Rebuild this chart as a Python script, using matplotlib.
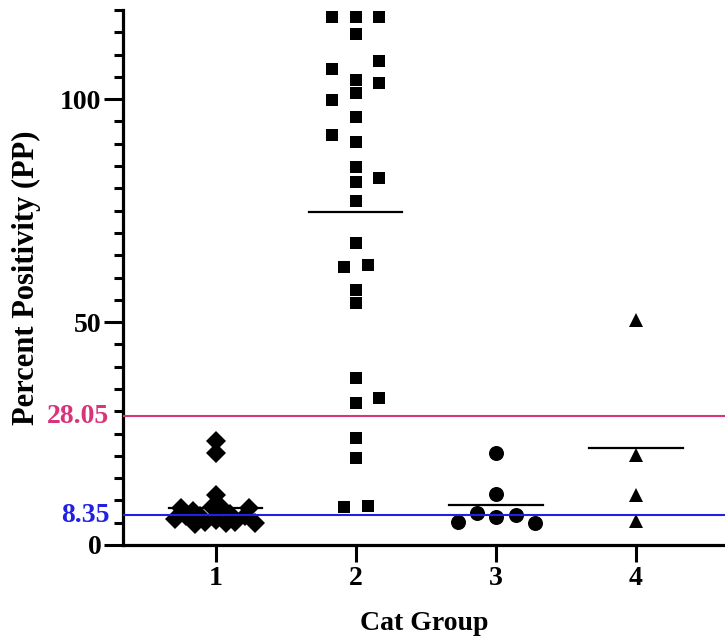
import numpy as np
import matplotlib
matplotlib.use("Agg")
import matplotlib.pyplot as plt
from matplotlib.ticker import MultipleLocator, FixedLocator

# ---------------- data ----------------
groups = [1, 2, 3, 4]
group_labels = ["1", "2", "3", "4"]

g1_values = [23.4, 20.6, 11.2, 8.2, 7.6, 8.6, 8.8, 8.2, 5.8, 4.7, 5.2, 5.5,
             4.9, 5.2, 4.9, 6.5, 6.5, 6.5, 7.0]
g1_jitter = [0.0, 0.0, 0.0, -0.25, -0.16, -0.03, 0.03, 0.24, -0.29, -0.15, -0.08, 0.0,
             0.07, 0.14, 0.28, -0.21, 0.21, -0.11, 0.10]

g2_values = [118.4, 118.4, 118.4, 114.6, 108.6, 106.7, 104.3, 103.6, 101.3, 99.8,
             95.9, 91.9, 90.5, 84.8, 81.5, 82.4, 77.1, 67.8, 62.4, 62.9, 57.3,
             54.3, 37.5, 31.8, 33.0, 24.0, 19.6, 8.6, 8.8]
g2_jitter = [-0.167, 0.0, 0.165, 0.0, 0.165, -0.167, 0.0, 0.165, 0.0, -0.167,
             0.0, -0.167, 0.0, 0.0, 0.0, 0.165, 0.0, 0.0, -0.082, 0.084, 0.0,
             0.0, 0.0, 0.0, 0.165, 0.0, 0.0, -0.082, 0.084]

g3_values = [20.6, 11.4, 5.2, 7.1, 6.2, 6.7, 5.0]
g3_jitter = [0.0, 0.0, -0.273, -0.135, 0.0, 0.143, 0.28]

g4_values = [50.4, 20.1, 11.2, 5.4]
g4_jitter = [0.0, 0.0, 0.0, 0.0]

cutoff_labels = ["28.05", "8.35"]
cutoff_levels = [28.9, 6.7]
cutoff_colors = ["#D8347A", "#2121E3"]

# ---------------- figure ----------------
W, H = 725, 643
fig = plt.figure(figsize=(W / 100, H / 100), dpi=100)
left_px, right_px, top_px, bottom_px = 122.7, 725, 10, 545
ax = fig.add_axes([left_px / W, (H - bottom_px) / H,
                   (right_px - left_px) / W, (bottom_px - top_px) / H])

font = {"family": "Liberation Serif", "weight": "bold"}
fs = 20

series = [
    (g1_values, g1_jitter, "D", 10.5),
    (g2_values, g2_jitter, "s", 8.4),
    (g3_values, g3_jitter, "o", 10.8),
    (g4_values, g4_jitter, "^", 10.0),
]

half_w = 0.333
for g, (vals, jit, mk, ms) in zip(groups, series):
    xs = np.array(jit) + g
    ax.plot(xs, vals, linestyle="none", marker=mk, markersize=ms,
            color="black", markeredgewidth=0, zorder=3, clip_on=False)
    m = np.mean(vals)
    ax.plot([g - half_w, g + half_w], [m, m], color="black", lw=1.6, zorder=2)

for lvl, lab, col in zip(cutoff_levels, cutoff_labels, cutoff_colors):
    ax.axhline(lvl, color=col, lw=1.5, zorder=4)
    ax.annotate(lab, xy=(0, lvl), xycoords=("axes fraction", "data"),
                xytext=(-9.5, 0), textcoords="offset points",
                ha="right", va="center", color=col, fontsize=fs, **font)

ax.set_xlim(0.336, 4.635)
ax.set_ylim(0, 120)

ax.xaxis.set_major_locator(FixedLocator(groups))
ax.set_xticklabels(group_labels)
ax.yaxis.set_major_locator(FixedLocator([0, 50, 100]))
ax.yaxis.set_minor_locator(MultipleLocator(5))

for s in ["top", "right"]:
    ax.spines[s].set_visible(False)
for s in ["left", "bottom"]:
    ax.spines[s].set_linewidth(2.3)
    ax.spines[s].set_capstyle("projecting")

ax.tick_params(axis="x", which="major", length=12, width=2.2, pad=3)
ax.tick_params(axis="y", which="major", length=13.7, width=2.2, pad=1.5)
ax.tick_params(axis="y", which="minor", length=6.5, width=2.2)

for lbl in ax.get_xticklabels() + ax.get_yticklabels():
    lbl.set_fontfamily("Liberation Serif")
    lbl.set_fontweight("bold")
    lbl.set_fontsize(fs)

ax.set_xlabel("Cat Group", fontsize=fs, **font)
ax.set_ylabel("Percent Positivity (PP)", fontsize=22, **font)
ax.xaxis.set_label_coords(0.5, -0.1234)
ax.yaxis.set_label_coords(-0.1356, 0.5)

fig.savefig("out.png", dpi=100)
